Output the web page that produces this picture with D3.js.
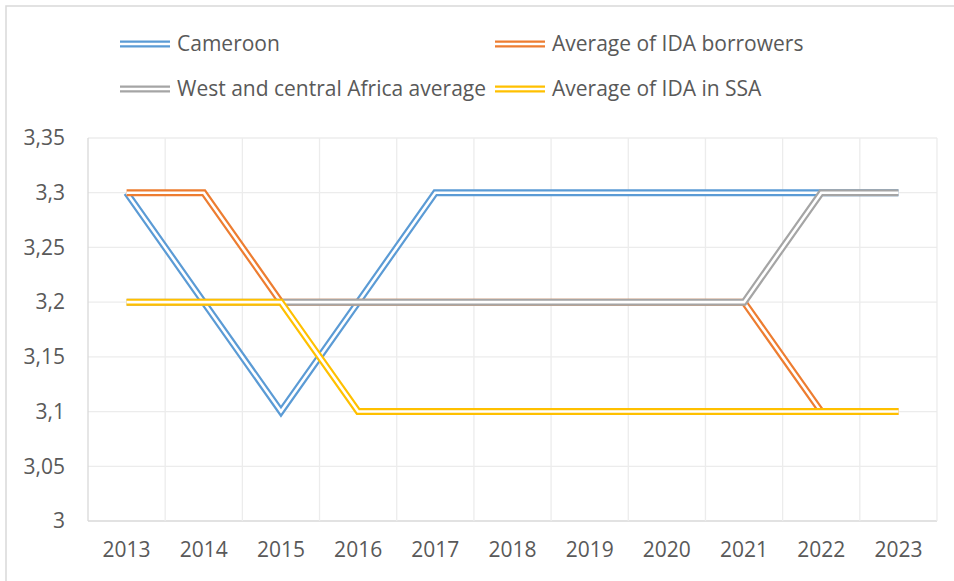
<!DOCTYPE html>
<html>
<head>
<meta charset="utf-8">
<script src="https://cdn.jsdelivr.net/npm/d3@7"></script>
<style>
	body { margin: 0; background: #fff; }
	svg { display: block; font-family: "Open Sans", sans-serif; }
</style>
</head>
<body>
<svg width="954" height="581"></svg>
<script>
const years = ["2013", "2014", "2015", "2016", "2017", "2018", "2019", "2020", "2021", "2022", "2023"];
const cameroon = [3.3, 3.2, 3.1, 3.2, 3.3, 3.3, 3.3, 3.3, 3.3, 3.3, 3.3];
const idaBorrowers = [3.3, 3.3, 3.2, 3.2, 3.2, 3.2, 3.2, 3.2, 3.2, 3.1, 3.1];
const westCentral = [3.2, 3.2, 3.2, 3.2, 3.2, 3.2, 3.2, 3.2, 3.2, 3.3, 3.3];
const idaSSA = [3.2, 3.2, 3.2, 3.1, 3.1, 3.1, 3.1, 3.1, 3.1, 3.1, 3.1];
const yTicks = [3, 3.05, 3.1, 3.15, 3.2, 3.25, 3.3, 3.35];

const series = [
	{ name: "Cameroon", values: cameroon, color: "#5b9bd5" },
	{ name: "Average of IDA borrowers", values: idaBorrowers, color: "#ed7d31" },
	{ name: "West and central Africa average", values: westCentral, color: "#a5a5a5" },
	{ name: "Average of IDA in SSA", values: idaSSA, color: "#ffc000" }
];

const svg = d3.select("svg");
const plotLeft = 88, plotRight = 937, plotTop = 138, plotBottom = 521;

// chart border
svg.append("rect")
	.attr("x", 6).attr("y", 6)
	.attr("width", 960).attr("height", 600)
	.attr("fill", "none")
	.attr("stroke", "#d9d9d9")
	.attr("stroke-width", 1.5);

const xScale = d3.scaleBand().domain(years).range([plotLeft, plotRight]);
const yScale = d3.scaleLinear().domain([3, 3.35]).range([plotBottom, plotTop]);

// gridlines
svg.append("g")
	.selectAll("line")
	.data(yTicks)
	.enter()
	.append("line")
	.attr("x1", plotLeft).attr("x2", plotRight)
	.attr("y1", d => yScale(d)).attr("y2", d => yScale(d))
	.attr("stroke", d => d === 3 ? "#d9d9d9" : "#ececec")
	.attr("stroke-width", 1.3);

svg.append("g")
	.selectAll("line")
	.data(years)
	.enter()
	.append("line")
	.attr("x1", d => xScale(d) + xScale.step())
	.attr("x2", d => xScale(d) + xScale.step())
	.attr("y1", plotTop).attr("y2", plotBottom)
	.attr("stroke", "#ececec")
	.attr("stroke-width", 1.3);

svg.append("line")
	.attr("x1", plotLeft).attr("x2", plotLeft)
	.attr("y1", plotTop).attr("y2", plotBottom)
	.attr("stroke", "#d9d9d9")
	.attr("stroke-width", 1.3);

// axis labels
const fmt = d => String(d).replace(".", ",");
const yAxis = d3.axisLeft(yScale).tickValues(yTicks).tickFormat(fmt).tickSize(0).tickPadding(23);
const yg = svg.append("g").attr("transform", `translate(${plotLeft},0)`).call(yAxis);
yg.select(".domain").remove();
yg.selectAll("text").attr("fill", "#595959").style("font-size", "21px").style("font-family", "'Open Sans', sans-serif");

const xAxis = d3.axisBottom(xScale).tickSize(0).tickPadding(21);
const xg = svg.append("g").attr("transform", `translate(0,${plotBottom})`).call(xAxis);
xg.select(".domain").remove();
xg.selectAll("text").attr("fill", "#595959").style("font-size", "21px").style("font-family", "'Open Sans', sans-serif");

// lines (double style)
const line = d3.line()
	.x((d, i) => xScale(years[i]) + xScale.bandwidth() / 2)
	.y(d => yScale(d));

series.forEach(s => {
	svg.append("path")
		.attr("d", line(s.values))
		.attr("fill", "none")
		.attr("stroke", s.color)
		.attr("stroke-width", 7);
	svg.append("path")
		.attr("d", line(s.values))
		.attr("fill", "none")
		.attr("stroke", "#fff")
		.attr("stroke-width", 2.6);
});

// legend
const legendPos = [[120, 44], [495, 44], [120, 89], [495, 89]];
series.forEach((s, i) => {
	const [lx, ly] = legendPos[i];
	const g = svg.append("g").attr("transform", `translate(${lx},${ly})`);
	g.append("line").attr("x1", 0).attr("x2", 50).attr("stroke", s.color).attr("stroke-width", 7);
	g.append("line").attr("x1", 0).attr("x2", 50).attr("stroke", "#fff").attr("stroke-width", 2.6);
	g.append("text")
		.attr("x", 57).attr("y", 0).attr("dy", "0.35em")
		.attr("fill", "#595959")
		.style("font-size", "21px")
		.text(s.name);
});
</script>
</body>
</html>
